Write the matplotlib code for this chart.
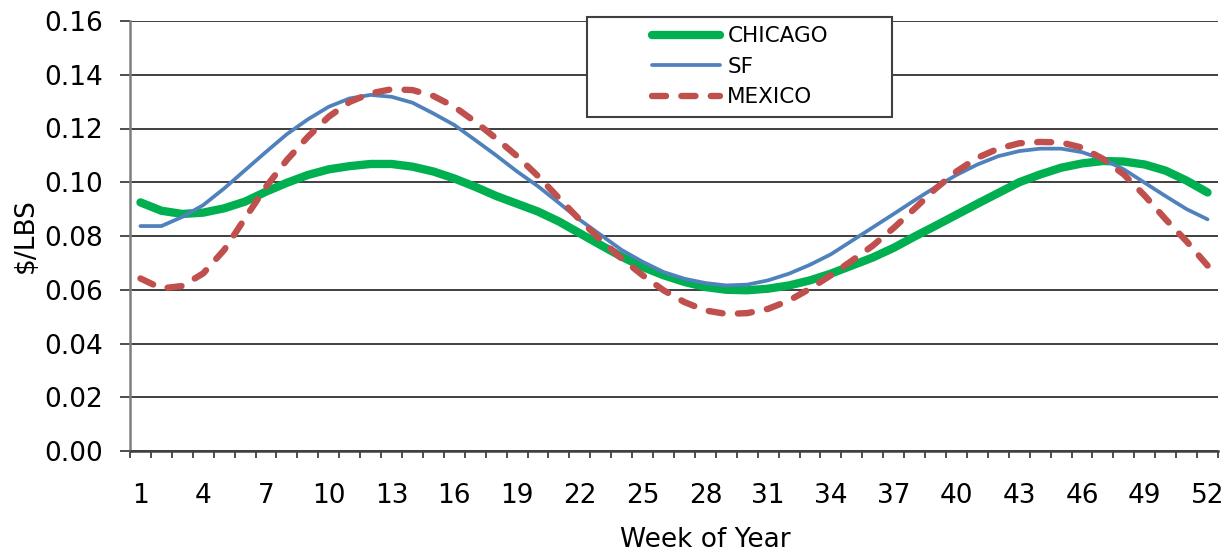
import matplotlib
matplotlib.use("Agg")
import matplotlib.pyplot as plt
from matplotlib.patches import Rectangle
from matplotlib.ticker import FixedLocator, NullFormatter

weeks = list(range(1, 53))

chicago = [0.0925, 0.0894, 0.0882, 0.0887, 0.0903, 0.0928, 0.0965, 0.0998, 0.1027, 0.1048,
           0.1060, 0.1068, 0.1068, 0.1058, 0.1040, 0.1014, 0.0983, 0.0949, 0.0920, 0.0891,
           0.0854, 0.0810, 0.0766, 0.0723, 0.0685, 0.0654, 0.0629, 0.0610, 0.0600, 0.0598,
           0.0604, 0.0616, 0.0635, 0.0660, 0.0690, 0.0720, 0.0756, 0.0798, 0.0838, 0.0879,
           0.0920, 0.0960, 0.1000, 0.1029, 0.1054, 0.1070, 0.1079, 0.1077, 0.1066, 0.1043,
           0.1006, 0.0962]

sf = [0.0837, 0.0837, 0.0871, 0.0915, 0.0977, 0.1045, 0.1113, 0.1179, 0.1234, 0.1281,
      0.1312, 0.1325, 0.1318, 0.1296, 0.1256, 0.1213, 0.1157, 0.1100, 0.1040, 0.0985,
      0.0923, 0.0860, 0.0804, 0.0748, 0.0704, 0.0666, 0.0641, 0.0625, 0.0616, 0.0619,
      0.0635, 0.0660, 0.0693, 0.0732, 0.0782, 0.0832, 0.0882, 0.0933, 0.0982, 0.1027,
      0.1066, 0.1097, 0.1116, 0.1125, 0.1125, 0.1112, 0.1085, 0.1048, 0.0998, 0.0948,
      0.0900, 0.0862]

mexico = [0.0642, 0.0605, 0.0614, 0.0661, 0.0748, 0.0866, 0.0983, 0.1083, 0.1169, 0.1244,
          0.1299, 0.1331, 0.1346, 0.1343, 0.1321, 0.1281, 0.1225, 0.1163, 0.1097, 0.1023,
          0.0941, 0.0860, 0.0785, 0.0716, 0.0654, 0.0598, 0.0554, 0.0523, 0.0510, 0.0513,
          0.0529, 0.0560, 0.0604, 0.0654, 0.0708, 0.0764, 0.0830, 0.0902, 0.0976, 0.1040,
          0.1091, 0.1125, 0.1145, 0.1150, 0.1148, 0.1129, 0.1087, 0.1029, 0.0950, 0.0862,
          0.0780, 0.0690]

week_labels = list(range(1, 53, 3))
y_ticks = [0.00, 0.02, 0.04, 0.06, 0.08, 0.10, 0.12, 0.14, 0.16]
series_names = ["CHICAGO", "SF", "MEXICO"]

plt.rcParams['font.family'] = ['DejaVu Sans']

W, H = 1232, 552
fig = plt.figure(figsize=(W / 100, H / 100), dpi=100)
ax = fig.add_axes([130 / W, 1 - 451 / H, (1218 - 130) / W, (451 - 21) / H])

l1, = ax.plot(weeks, chicago, color='#00B050', lw=6.0, solid_capstyle='round',
              solid_joinstyle='round', zorder=3)
l2, = ax.plot(weeks, sf, color='#4F81BD', lw=2.7, solid_capstyle='round',
              solid_joinstyle='round', zorder=4)
l3, = ax.plot(weeks, mexico, color='#C0504D', lw=4.6, dash_capstyle='round',
              zorder=5)
l3.set_dashes((2.2, 2.4))

ax.set_xlim(0.5, 52.5)
ax.set_ylim(0, 0.16)
ax.set_yticks(y_ticks)
ax.set_yticklabels([f"{v:.2f}" for v in y_ticks])
ax.set_xticks(week_labels)
ax.set_xticklabels([str(w) for w in week_labels])
ax.xaxis.set_minor_locator(FixedLocator([i + 0.5 for i in range(0, 53)]))
ax.xaxis.set_minor_formatter(NullFormatter())

ax.grid(axis='y', color='#303030', lw=1.3, zorder=1)
ax.set_axisbelow(True)
for s in ['top', 'right']:
    ax.spines[s].set_visible(False)
ax.spines['left'].set_color('#7f7f7f')
ax.spines['left'].set_linewidth(1.8)
ax.spines['bottom'].set_color('#404040')
ax.spines['bottom'].set_linewidth(1.8)

ax.tick_params(axis='y', length=7.2, width=1.3, color='#404040', pad=12,
               labelsize=19, labelcolor='black')
ax.tick_params(axis='x', which='major', length=0, pad=23, labelsize=19,
               labelcolor='black')
ax.tick_params(axis='x', which='minor', length=5, width=1.3, color='#404040')

ax.set_ylabel("$/LBS", fontsize=19)
ax.yaxis.set_label_coords(-0.0836, 0.5)
ax.set_xlabel("Week of Year", fontsize=19)
ax.xaxis.set_label_coords(0.5285, -0.1767)

# legend box
box = Rectangle((587 / W, 1 - 116.5 / H), 305 / W, 99 / H, transform=fig.transFigure,
                facecolor='white', edgecolor='#404040', lw=1.5, zorder=2)
fig.patches.append(box)
fig.legend([l1, l2, l3], series_names, loc='center',
           bbox_to_anchor=(740 / W, 1 - 66.8 / H), frameon=False,
           fontsize=15.5, handlelength=3.15, handletextpad=0.35, labelspacing=0.48)

fig.savefig("out.png", dpi=100)
